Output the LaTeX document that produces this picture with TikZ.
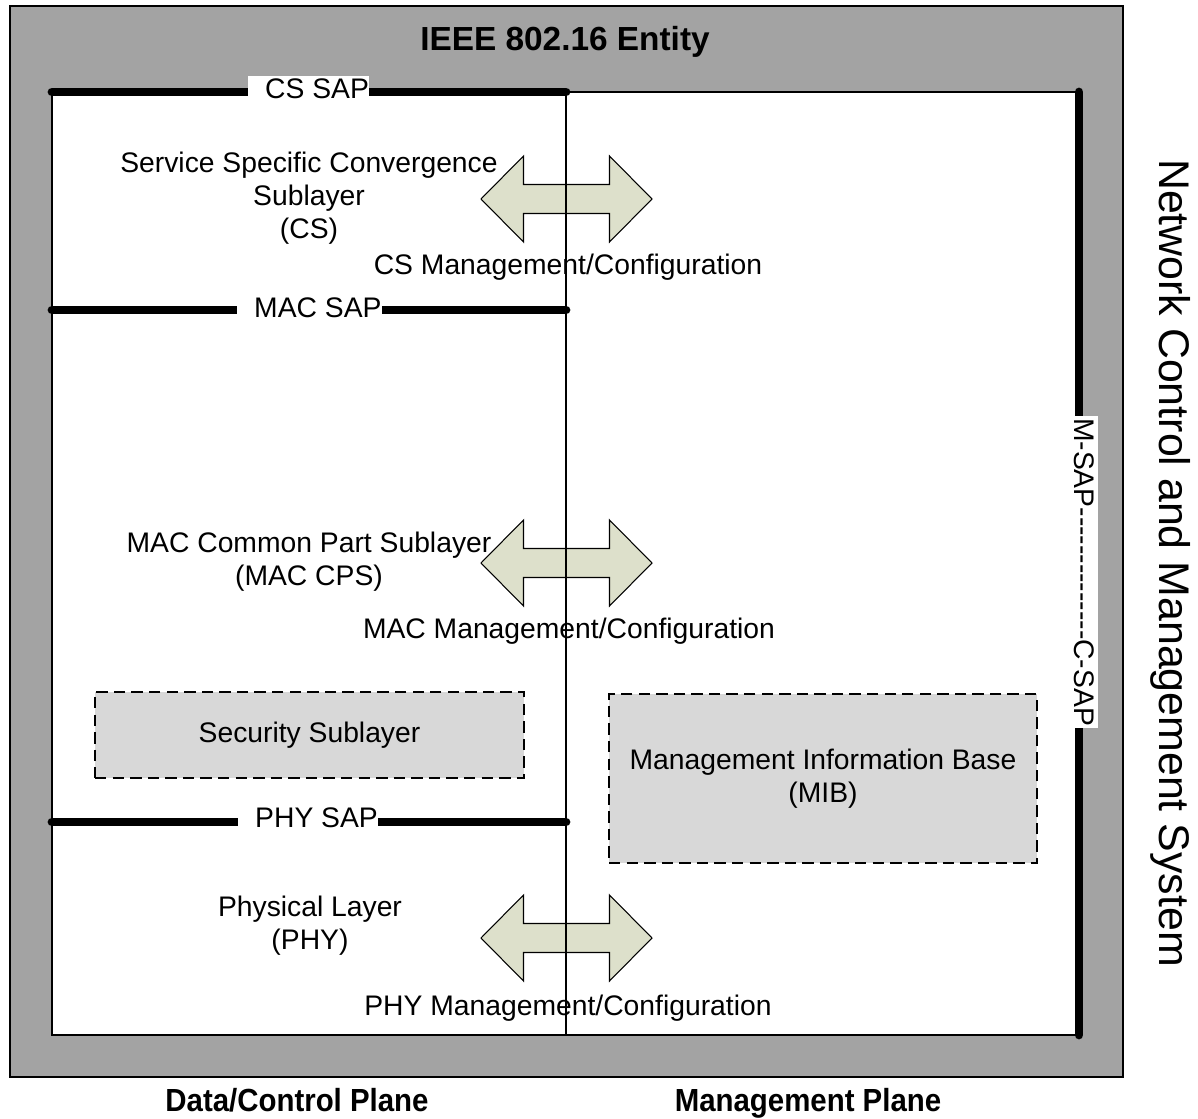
\documentclass[tikz,border=0pt]{standalone}
\usepackage{fontspec}
\setmainfont{Liberation Sans}
\newfontfamily\planefont{Liberation Sans}[FakeStretch=0.92]
\usetikzlibrary{calc,positioning}
\definecolor{FrameGray}{RGB}{163,163,163}
\definecolor{BoxGray}{RGB}{216,216,216}
\definecolor{ArrowGreen}{RGB}{221,224,203}
\tikzset{
    every node/.style={inner sep=0pt},
    txt/.style={font=\fontsize{16.1}{18.7}\selectfont, align=center},
    planetitle/.style={font=\planefont\fontsize{18.2}{21}\selectfont\bfseries, anchor=base},
    frameline/.style={line width=0.8pt},
    sap/.style={line width=5pt, line cap=round},
    saplabel/.style={txt, fill=white, anchor=west, inner ysep=1.5pt,
        execute at begin node={\hspace*{9.6pt}}},
    dashbox/.style={txt, draw, fill=BoxGray, line width=0.8pt,
        dash pattern=on 6.5pt off 3.5pt},
    dblarrow/.style={draw, fill=ArrowGreen, line width=0.6pt},
}
\newcommand\mgmtarrow[1]{%
    \draw[dblarrow, shift={#1}] (-85.5,0) -- (-43,-43) -- (-43,-14.5) -- (43,-14.5)
        -- (43,-43) -- (85.5,0) -- (43,43) -- (43,14.5) -- (-43,14.5) -- (-43,43) -- cycle;}
\newcommand\dashrun{\foreach \k in {1,...,14}{-\kern0pt}}

\begin{document}
\begin{tikzpicture}[x=0.02cm,y=-0.02cm]
    \useasboundingbox (0,0) rectangle (1198,1119);
    \draw[frameline, fill=FrameGray] (10,6) rectangle (1123,1077);
    \draw[frameline, fill=white] (52,92) rectangle (1079,1035);
    \coordinate (tl) at (52,92);
    \coordinate (tm) at (566,92);
    \coordinate (tr) at (1079,92);
    \coordinate (bm) at (566,1035);
    \coordinate (br) at (1079,1035);
    \coordinate (macL) at (52,310);
    \coordinate (macR) at (566,310);
    \coordinate (phyL) at (52,822);
    \coordinate (phyR) at (566,822);

    \mgmtarrow{(566.5,199)}
    \mgmtarrow{(566.5,563)}
    \mgmtarrow{(566.5,938)}

    \node[txt] (cs) at (309,198) {Service Specific Convergence\\Sublayer\\(CS)};
    \node[txt] (csmgmt) at (568,267) {CS Management/Configuration};
    \node[txt] (mac) at (309,562) {MAC Common Part Sublayer\\(MAC CPS)};
    \node[txt] (macmgmt) at (569,631) {MAC Management/Configuration};
    \node[txt] (phy) at (310,926) {Physical Layer\\(PHY)};
    \node[txt] (phymgmt) at (568,1008) {PHY Management/Configuration};
    \node[dashbox, minimum width=8.58cm, minimum height=1.72cm] (sec) at (309.5,735) {Security Sublayer};
    \node[dashbox, minimum width=8.56cm, minimum height=3.38cm] (mib) at (823,778.5) {Management Information Base\\(MIB)};

    \draw[frameline] (tm) -- (bm);

    \draw[sap] (tl) -- (tm);
    \draw[sap] (macL) -- (macR);
    \draw[sap] (phyL) -- (phyR);
    \draw[sap] (tr) -- (br);
    \node[saplabel] (cssap) at (248,89) {CS SAP};
    \node[saplabel] (macsap) at (237,308) {MAC SAP};
    \node[saplabel] (physap) at (238,818) {PHY SAP};
    \node[txt, fill=white, rotate=-90, inner ysep=2pt, inner xsep=1pt] (msap) at (1084,572) {M-SAP\dashrun C-SAP};

    \node[font=\fontsize{19}{22}\selectfont\bfseries] (entity) at (565,42) {IEEE 802.16 Entity};
    \node[planetitle] (dcplane) at (297,1111) {Data/Control Plane};
    \node[planetitle] (mplane) at (808,1111) {Management Plane};
    \node[font=\fontsize{24.4}{28}\selectfont, rotate=-90] (ncms) at (1171,563) {Network Control and Management System};
\end{tikzpicture}
\end{document}
